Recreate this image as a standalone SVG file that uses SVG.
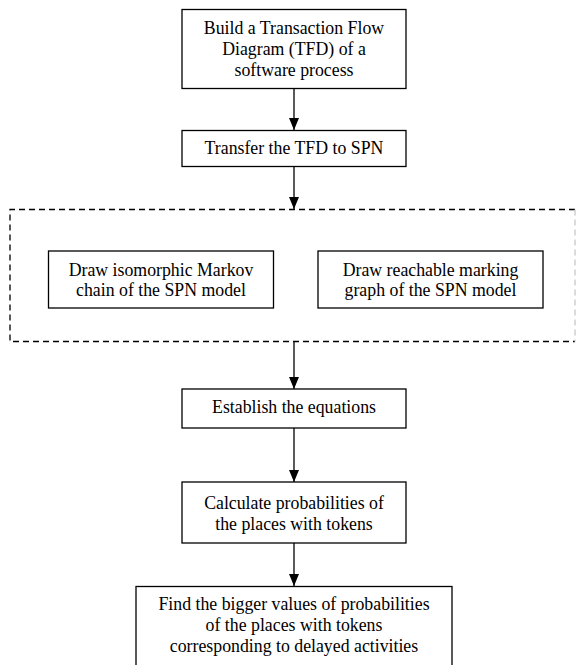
<svg xmlns="http://www.w3.org/2000/svg" width="576" height="665" viewBox="0 0 576 665">
<style>
.box{fill:#fff;stroke:#000;stroke-width:1.3}
.t{font-family:"Liberation Serif","Times New Roman",serif;font-size:17.8px;fill:#000;text-anchor:middle}
.c{stroke:#000;stroke-width:1.3;fill:none;marker-end:url(#ah)}
.dash{stroke:#000;stroke-width:1.3;fill:none;stroke-dasharray:6,4}
</style>
<defs>
<marker id="ah" markerUnits="userSpaceOnUse" markerWidth="12" markerHeight="14" viewBox="0 0 12 14" refX="12" refY="5" orient="auto">
<path d="M0,0 L12,5 L0,10 Z" fill="#000"/>
</marker>
</defs>
<rect width="576" height="665" fill="#fff"/>
<g id="group">
<path class="dash" d="M575,209.5 H10 V341.5 H575"/>
<path d="M575,209.5 V341.5" style="stroke:#c8c8c8;stroke-width:1.3;fill:none;stroke-dasharray:6,4"/>
</g>
<g id="connectors">
<path class="c" d="M294,88.5 V130"/>
<path class="c" d="M294,166.5 V209"/>
<path class="c" d="M294,341.5 V389"/>
<path class="c" d="M294,428 V482"/>
<path class="c" d="M294,543 V586"/>
</g>
<g id="n1">
<rect class="box" x="182" y="9.5" width="224" height="79"/>
<text class="t" x="294" y="34">Build a Transaction Flow</text>
<text class="t" x="294" y="55">Diagram (TFD) of a</text>
<text class="t" x="294" y="76">software process</text>
</g>
<g id="n2">
<rect class="box" x="182" y="130.5" width="224" height="36"/>
<text class="t" x="294" y="154">Transfer the TFD to SPN</text>
</g>
<g id="n3">
<rect class="box" x="48.5" y="251" width="225" height="57"/>
<text class="t" x="161" y="276">Draw isomorphic Markov</text>
<text class="t" x="161" y="296">chain of the SPN model</text>
</g>
<g id="n4">
<rect class="box" x="318" y="251" width="225" height="57"/>
<text class="t" x="430.5" y="276">Draw reachable marking</text>
<text class="t" x="430.5" y="296">graph of the SPN model</text>
</g>
<g id="n5">
<rect class="box" x="182" y="389" width="224" height="39"/>
<text class="t" x="294" y="413">Establish the equations</text>
</g>
<g id="n6">
<rect class="box" x="182" y="482" width="224" height="61"/>
<text class="t" x="294" y="509">Calculate probabilities of</text>
<text class="t" x="294" y="530">the places with tokens</text>
</g>
<g id="n7">
<rect class="box" x="136" y="586.5" width="316" height="100"/>
<text class="t" x="294" y="610">Find the bigger values of probabilities</text>
<text class="t" x="294" y="631">of the places with tokens</text>
<text class="t" x="294" y="652">corresponding to delayed activities</text>
</g>
</svg>
